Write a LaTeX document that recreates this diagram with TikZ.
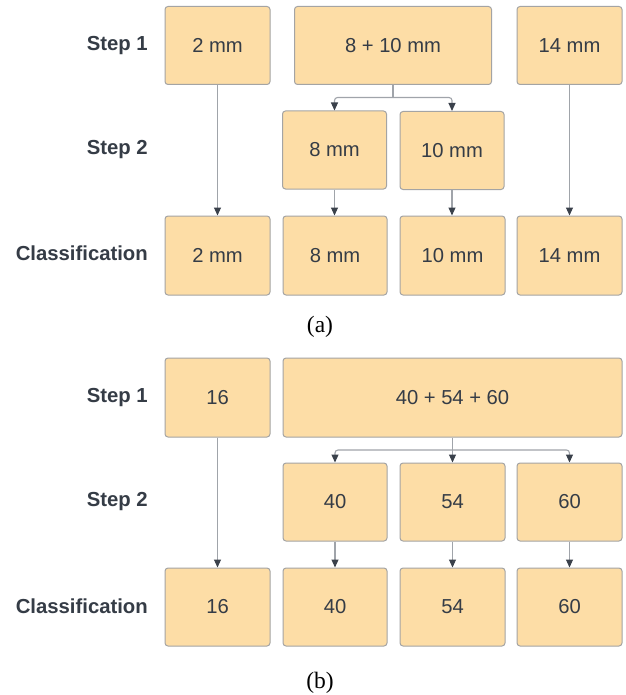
\documentclass[tikz,border=0pt]{standalone}
\usepackage{fontspec}
\setmainfont{Liberation Sans}
\newfontfamily\captionserif{Liberation Serif}
\usetikzlibrary{arrows.meta}

\definecolor{boxfill}{HTML}{FDDDA6}
\definecolor{boxline}{HTML}{A4A4A4}
\definecolor{inktext}{HTML}{353C46}
\definecolor{wire}{HTML}{A0A4AA}
\definecolor{tipcol}{HTML}{3A414B}

\tikzset{
  cell/.style={rectangle, rounded corners=3pt, draw=boxline, line width=1pt,
    fill=boxfill, inner sep=0pt, text=inktext,
    font=\fontsize{20.2}{23}\selectfont},
  rowlabel/.style={anchor=east, inner sep=0pt, text=inktext,
    font=\fontsize{20.3}{24}\selectfont\bfseries},
  subcap/.style={inner sep=0pt, text=black,
    font=\captionserif\fontsize{23.5}{27}\selectfont},
  wireline/.style={draw=wire, line width=1.1pt},
  wirearrow/.style={wireline,
    -{Triangle[length=8pt,width=7pt,color=tipcol]}},
}

\begin{document}
\begin{tikzpicture}[x=1pt,y=-1pt]
\useasboundingbox (0,0) rectangle (625,695);
\fill[white] (0,0) rectangle (625,695);

% ---------- (a) ----------
\node[rowlabel] (la1) at (148,45.5) {Step 1};
\node[rowlabel] (la2) at (148,149.5) {Step 2};
\node[rowlabel] (la3) at (148,253.5) {Classification};

\node[cell, minimum width=105pt, minimum height=78pt] (a11) at (217.5,45.5) {2 mm};
\node[cell, minimum width=197pt, minimum height=78pt] (a12) at (393,45.5) {8 + 10 mm};
\node[cell, minimum width=105pt, minimum height=78pt] (a13) at (569.5,45.5) {14 mm};

\node[cell, minimum width=104pt, minimum height=78pt] (a22) at (334.5,150) {8 mm};
\node[cell, minimum width=104pt, minimum height=78pt] (a23) at (452,150.5) {10 mm};

\node[cell, minimum width=105pt, minimum height=79pt] (a31) at (217.5,255.5) {2 mm};
\node[cell, minimum width=104pt, minimum height=79pt] (a32) at (335,255.5) {8 mm};
\node[cell, minimum width=105pt, minimum height=79pt] (a33) at (452.5,255.5) {10 mm};
\node[cell, minimum width=105pt, minimum height=79pt] (a34) at (569.5,255.5) {14 mm};

\coordinate (ja) at (393,97.5);
\draw[wireline] (a12.south) -- (ja);
\draw[wirearrow, rounded corners=3pt] (ja) -| (a22.north);
\draw[wirearrow, rounded corners=3pt] (ja) -| (a23.north);
\draw[wirearrow] (a11.south) -- (a31.north);
\draw[wirearrow] (a13.south) -- (a34.north);
\draw[wirearrow] (a22.south) -- (a22.south |- a32.north);
\draw[wirearrow] (a23.south) -- (a23.south |- a33.north);

\node[subcap] (capa) at (320,327) {(a)};

% ---------- (b) ----------
\node[rowlabel] (lb1) at (148,398) {Step 1};
\node[rowlabel] (lb2) at (148,502) {Step 2};
\node[rowlabel] (lb3) at (148,606) {Classification};

\node[cell, minimum width=105pt, minimum height=79pt] (b11) at (217.5,397.5) {16};
\node[cell, minimum width=339pt, minimum height=79pt] (b12) at (452.5,397.5) {40 + 54 + 60};

\node[cell, minimum width=104pt, minimum height=78pt] (b21) at (335,502) {40};
\node[cell, minimum width=105pt, minimum height=78pt] (b22) at (452.5,502) {54};
\node[cell, minimum width=105pt, minimum height=78pt] (b23) at (569.5,502) {60};

\node[cell, minimum width=105pt, minimum height=78pt] (b31) at (217.5,607) {16};
\node[cell, minimum width=104pt, minimum height=78pt] (b32) at (335,607) {40};
\node[cell, minimum width=105pt, minimum height=78pt] (b33) at (452.5,607) {54};
\node[cell, minimum width=105pt, minimum height=78pt] (b34) at (569.5,607) {60};

\coordinate (jb) at (452.5,450);
\draw[wireline] (b12.south) -- (jb);
\draw[wirearrow, rounded corners=3pt] (jb) -| (b21.north);
\draw[wirearrow] (jb) -- (b22.north);
\draw[wirearrow, rounded corners=3pt] (jb) -| (b23.north);
\draw[wirearrow] (b11.south) -- (b31.north);
\draw[wirearrow] (b21.south) -- (b32.north);
\draw[wirearrow] (b22.south) -- (b33.north);
\draw[wirearrow] (b23.south) -- (b34.north);

\node[subcap] (capb) at (320,683) {(b)};
\end{tikzpicture}
\end{document}
